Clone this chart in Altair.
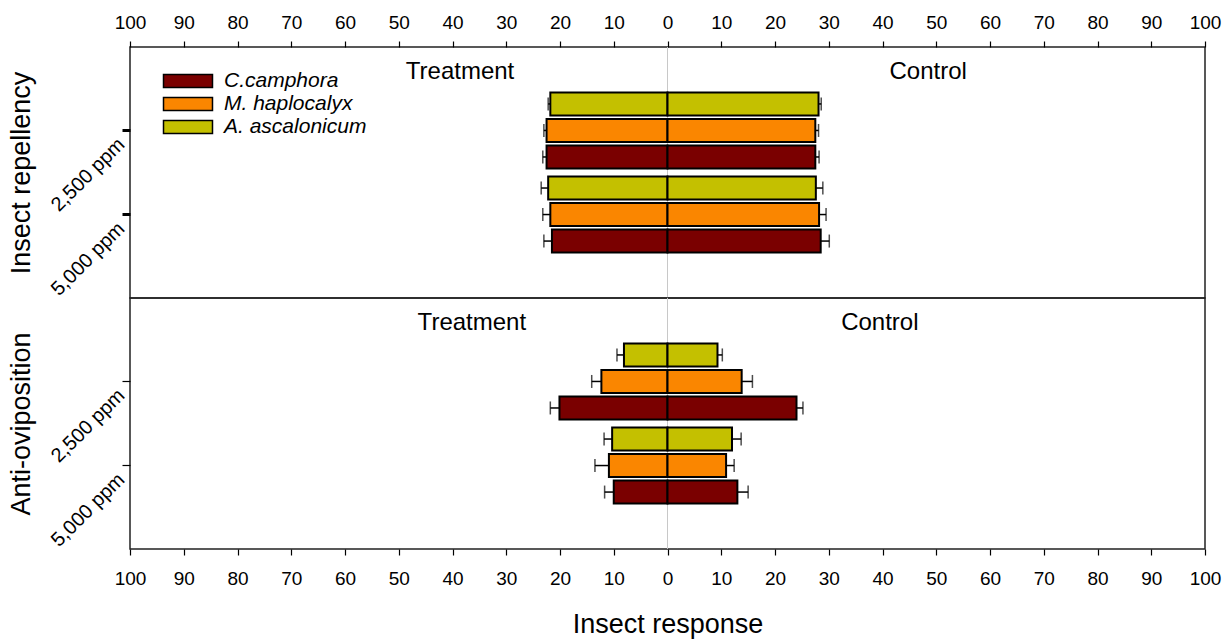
import altair as alt
import pandas as pd

FONT = "Liberation Sans"

species = ["C.camphora", "M. haplocalyx", "A. ascalonicum"]
colors = ["#7A0000", "#FA8600", "#C4C000"]
concs = ["2,500 ppm", "5,000 ppm"]

# order: 2,500 ppm (C, M, A), 5,000 ppm (C, M, A)
rep_treat = [22.5, 22.5, 21.8, 21.5, 21.8, 22.2]
rep_treat_se = [0.7, 0.5, 0.4, 1.5, 1.4, 1.3]
rep_ctrl = [27.5, 27.5, 28.1, 28.5, 28.2, 27.6]
rep_ctrl_se = [0.7, 0.6, 0.5, 1.6, 1.3, 1.3]

ovi_treat = [20.1, 12.3, 8.1, 10.0, 10.9, 10.3]
ovi_treat_se = [1.7, 1.8, 1.3, 1.7, 2.6, 1.5]
ovi_ctrl = [24.0, 13.8, 9.3, 13.0, 10.9, 12.0]
ovi_ctrl_se = [1.2, 2.0, 0.9, 2.0, 1.5, 1.7]

ann_labels = ["Treatment", "Control"]
rep_ann_x = [-38.6, 48.5]
ovi_ann_x = [-36.4, 39.5]

ticks = list(range(-100, 101, 10))


def build(treat, tse, ctrl, cse):
    rows = []
    for i in range(6):
        c = concs[i // 3]
        s = species[i % 3]
        rows.append({"conc": c, "species": s, "value": -treat[i], "end": -(treat[i] + tse[i])})
        rows.append({"conc": c, "species": s, "value": ctrl[i], "end": ctrl[i] + cse[i]})
    return pd.DataFrame(rows)


def panel(df, ann_x, ytitle, orient, tick_w, show_legend):
    xscale = alt.Scale(domain=[-100, 100], nice=False, zero=False)
    xaxis = alt.Axis(
        orient=orient, values=ticks, labelExpr="abs(datum.value)",
        title="Insect response" if orient == "bottom" else None,
        grid=False, domain=False, tickColor="black", tickWidth=1.2, labelColor="black",
        titleColor="black", titleFontWeight="normal", labelFont=FONT, titleFont=FONT,
        tickSize=6, labelPadding=14 if orient == "bottom" else 9,
        labelFontSize=19, titleFontSize=27,
        titlePadding=23, labelFlush=False, labelOverlap=False,
    )
    yenc = alt.Y(
        "conc:N", sort=concs,
        scale=alt.Scale(paddingInner=0.095, paddingOuter=0.54),
        axis=alt.Axis(title=ytitle, labelAngle=-45, labelAlign="right", labelBaseline="top",
                      grid=False, domain=False, tickColor="black", labelColor="black",
                      titleColor="black", titleFontWeight="normal", labelFont=FONT, titleFont=FONT,
                      labelFontSize=20, titleFontSize=27, tickSize=8, tickWidth=tick_w,
                      labelPadding=8, labelOffset=4, titlePadding=12),
    )
    yoff = alt.YOffset("species:N", sort=species[::-1],
                       scale=alt.Scale(paddingInner=0.13, paddingOuter=0))

    zero = alt.Chart(pd.DataFrame({"value": [0]})).mark_rule(
        color="#c8c8c8", strokeWidth=1).encode(x=alt.X("value:Q", scale=xscale, axis=xaxis))

    legend = alt.Legend(
        orient="none", legendX=45, legendY=21, title=None,
        symbolType="M-2,-0.54H2V0.54H-2Z", symbolSize=600,
        symbolStrokeColor="black", symbolStrokeWidth=1.5, symbolOpacity=1,
        labelFontSize=21, labelFontStyle="italic", labelFont=FONT, labelColor="black",
        labelOffset=23, rowPadding=0, padding=0,
    ) if show_legend else None

    base = alt.Chart(df).encode(y=yenc, yOffset=yoff)
    bars = base.mark_bar(stroke="black", strokeWidth=2, opacity=1).encode(
        x=alt.X("value:Q", scale=xscale, axis=xaxis),
        color=alt.Color("species:N", scale=alt.Scale(domain=species, range=colors), legend=legend),
    )
    err = base.mark_rule(color="black", strokeWidth=1.5).encode(
        x=alt.X("value:Q", scale=xscale, axis=xaxis), x2="end:Q")
    caps = base.mark_tick(color="black", thickness=1.5, size=13, orient="vertical").encode(
        x=alt.X("end:Q", scale=xscale, axis=xaxis))

    ann = alt.Chart(pd.DataFrame({"value": ann_x, "label": ann_labels})).mark_text(
        fontSize=24, font=FONT, color="black", baseline="middle").encode(
        x=alt.X("value:Q", scale=xscale, axis=xaxis), y=alt.value(25), text="label:N")

    return alt.layer(zero, err, caps, bars, ann).properties(width=1075, height=251)


top = panel(build(rep_treat, rep_treat_se, rep_ctrl, rep_ctrl_se), rep_ann_x,
            "Insect repellency", "top", 3, True)
bottom = panel(build(ovi_treat, ovi_treat_se, ovi_ctrl, ovi_ctrl_se), ovi_ann_x,
               "Anti-oviposition", "bottom", 1.2, False)

chart = alt.vconcat(top, bottom, spacing=0, bounds="flush").resolve_legend(
    color="independent").properties(
    padding={"left": 6, "top": 12, "right": 5, "bottom": 2}, background="white"
).configure_view(stroke="#222", strokeWidth=1.5).configure_axis(
    grid=False, domain=False, labelFont=FONT, titleFont=FONT, labelColor="black",
    titleColor="black", tickColor="black", titleFontWeight="normal"
)

chart.save("out.html", embed_options={"renderer": "svg", "actions": False})
